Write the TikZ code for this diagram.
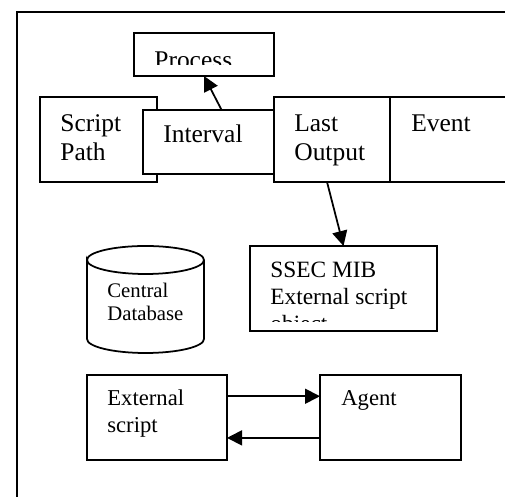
\documentclass[tikz,border=0pt]{standalone}
\usepackage{fontspec}
\setmainfont{Liberation Serif}
\usepackage{tikz}
\usetikzlibrary{calc,positioning,arrows.meta}
\tikzset{
  mibBox/.style={draw=black, fill=white, line width=1pt, inner sep=0pt, outer sep=0pt, anchor=north west},
  mibLarge/.style={font=\fontsize{14.5}{16.5}\selectfont, align=left, inner sep=0pt, anchor=base west},
  mibText/.style={font=\fontsize{13.3}{15.4}\selectfont, align=left, inner sep=0pt, anchor=base west},
  mibLower/.style={font=\fontsize{12.9}{15.6}\selectfont, align=left, inner sep=0pt, anchor=base west},
  mibSmall/.style={font=\fontsize{11.8}{13.6}\selectfont, align=left, inner sep=0pt, anchor=base west},
  mibArrow/.style={line width=1pt, -{Triangle[length=0.3cm,width=0.3cm]}},
}

\begin{document}
\begin{tikzpicture}
  \useasboundingbox (0,0) rectangle (10.1,9.94);
  % Outer frame, open to the right and below
  \draw[line width=1.1pt] (0.34,0) -- (0.34,9.7) -- (10.2,9.7);

  % Process box, its text cut off by the box
  \node[mibBox, minimum width=2.80cm, minimum height=0.86cm] (processBox) at (2.68,9.28) {};
  \begin{scope}
    \clip (2.7,8.64) rectangle (5.4,9.26);
    \node[mibLarge] (processText) at (3.08,8.56) {Process};
  \end{scope}

  % Row of table cells
  \node[mibBox, minimum width=2.34cm, minimum height=1.70cm] (pathBox) at (0.80,8.0) {};
  \node[mibLarge] (pathText) at (1.20,6.72) {Script\\Path};
  \node[mibBox, minimum width=2.62cm, minimum height=1.28cm] (intervalBox) at (2.86,7.74) {};
  \node[mibLarge] (intervalText) at (3.26,7.08) {Interval};
  \node[mibBox, minimum width=2.32cm, minimum height=1.70cm] (outputBox) at (5.48,8.0) {};
  \node[mibLarge] (outputText) at (5.88,6.72) {Last\\Output};
  \node[mibBox, minimum width=2.60cm, minimum height=1.70cm] (eventBox) at (7.80,8.0) {};
  \node[mibLarge] (eventText) at (8.22,7.30) {Event};

  % SSEC box, third line mostly hidden
  \node[mibBox, minimum width=3.74cm, minimum height=1.70cm] (ssecBox) at (5.0,5.02) {};
  \begin{scope}
    \clip (5.02,3.5) rectangle (8.72,5.0);
    \node[mibText] (ssecText) at (5.40,3.30) {SSEC MIB\\External script\\object};
  \end{scope}

  % Database
  \draw[line width=1pt] (1.74,4.74) arc (180:-180:1.17 and 0.28) -- (1.74,3.16)
    arc (180:360:1.17 and 0.28) -- (4.08,4.74);
  \node[mibSmall] (dbText) at (2.14,3.52) {Central\\Database};

  % Script and agent
  \node[mibBox, minimum width=2.80cm, minimum height=1.70cm] (scriptBox) at (1.74,2.44) {};
  \node[mibLower] (scriptText) at (2.14,1.28) {External\\script};
  \node[mibBox, minimum width=2.82cm, minimum height=1.70cm] (agentBox) at (6.40,2.44) {};
  \node[mibLower] (agentText) at (6.82,1.82) {Agent};

  % Arrows
  \draw[mibArrow] ($(intervalBox.north west)!0.6!(intervalBox.north east)$) -- (processBox.south);
  \draw[mibArrow] ($(outputBox.south west)!0.457!(outputBox.south east)$) -- (ssecBox.north);
  \draw[mibArrow] ($(scriptBox.north east)!0.25!(scriptBox.south east)$) -- ($(agentBox.north west)!0.25!(agentBox.south west)$);
  \draw[mibArrow] ($(agentBox.north west)!0.74!(agentBox.south west)$) -- ($(scriptBox.north east)!0.74!(scriptBox.south east)$);
\end{tikzpicture}
\end{document}
